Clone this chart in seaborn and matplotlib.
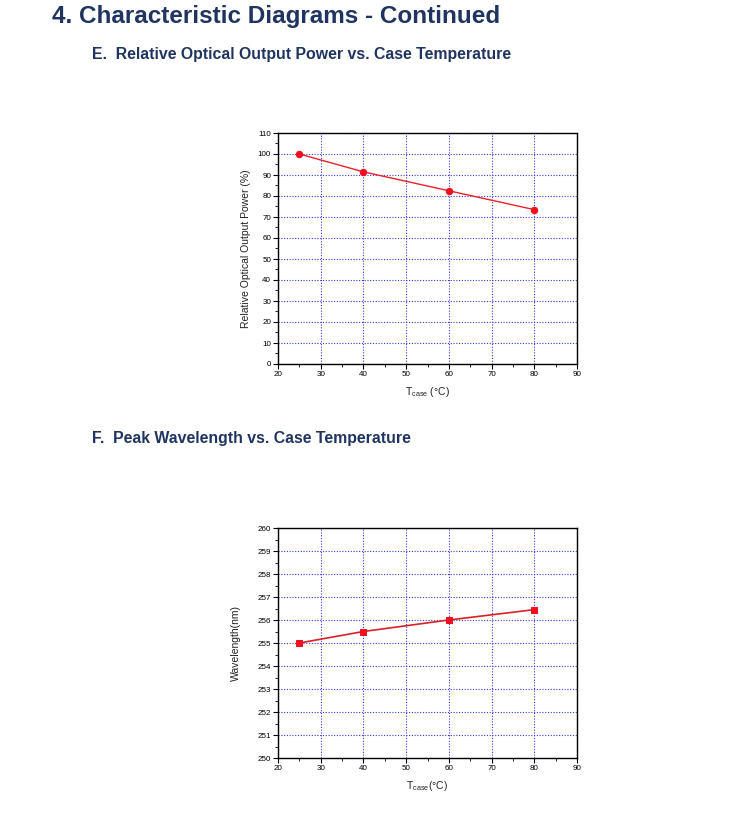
import matplotlib
matplotlib.use("Agg")
import matplotlib.pyplot as plt
import seaborn as sns
import pandas as pd
from matplotlib.ticker import MultipleLocator

# Data
temps = [25, 40, 60, 80]
power = [100, 91.5, 82.5, 73.5]
wavelength = [255.0, 255.5, 256.0, 256.45]

title = "4. Characteristic Diagrams - Continued"
sub_e = "E.  Relative Optical Output Power vs. Case Temperature"
sub_f = "F.  Peak Wavelength vs. Case Temperature"

sns.set_theme(style="white")
plt.rcParams['font.family'] = ['Liberation Sans', 'DejaVu Sans']

fig = plt.figure(figsize=(7.5, 8.13), dpi=100)
navy = "#1f3460"
fig.text(52/750, 1-16/813, title, fontsize=17.5, fontweight="bold", color=navy, va="center", ha="left")
fig.text(92/750, 1-54/813, sub_e, fontsize=11.4, fontweight="bold", color=navy, va="center", ha="left")
fig.text(92/750, 1-438/813, sub_f, fontsize=11.4, fontweight="bold", color=navy, va="center", ha="left")

ax1 = fig.add_axes([278/750, 1-364/813, 299/750, 231/813])
ax2 = fig.add_axes([278/750, 1-758/813, 299/750, 230/813])

df1 = pd.DataFrame({"T": temps, "P": power})
df2 = pd.DataFrame({"T": temps, "W": wavelength})

sns.lineplot(data=df1, x="T", y="P", ax=ax1, color="#e8202a", marker="o", markersize=4.6,
             markeredgecolor="#f01020", markerfacecolor="#f01020", linewidth=1.0, zorder=5)
sns.lineplot(data=df2, x="T", y="W", ax=ax2, color="#d8202a", marker="s", markersize=4.3,
             markeredgecolor="#f01020", markerfacecolor="#f01020", linewidth=1.2, zorder=5)

def style(ax, ylim, ymaj, ymin, ylabel, xlabel):
    ax.set_xlim(20, 90)
    ax.set_ylim(*ylim)
    ax.xaxis.set_major_locator(MultipleLocator(10))
    ax.xaxis.set_minor_locator(MultipleLocator(5))
    ax.yaxis.set_major_locator(MultipleLocator(ymaj))
    ax.yaxis.set_minor_locator(MultipleLocator(ymin))
    ax.grid(True, which="major", color="#3a3ad0", linestyle=(0, (1, 1.5)), linewidth=0.8)
    for s in ax.spines.values():
        s.set_color("black")
        s.set_linewidth(1.0)
    ax.tick_params(which="both", direction="out", colors="black", labelsize=5.8,
                   bottom=True, left=True, top=False, right=False, pad=1.5)
    ax.tick_params(which="major", length=3.5, width=0.8)
    ax.tick_params(which="minor", length=2, width=0.6)
    ax.set_ylabel(ylabel, fontsize=7.5, color="#222222", labelpad=5)
    ax.set_xlabel(xlabel, fontsize=7.5, color="#222222", labelpad=5)
    ax.set_facecolor("white")

style(ax1, (0, 110), 10, 5, "Relative Optical Output Power (%)", r"T$_{\mathregular{case}}$ (°C)")
style(ax2, (250, 260), 1, 0.5, "Wavelength(nm)", r"T$_{\mathregular{case}}$(°C)")
ax2.yaxis.labelpad = 12

fig.savefig("out.png", dpi=100, facecolor="white")
